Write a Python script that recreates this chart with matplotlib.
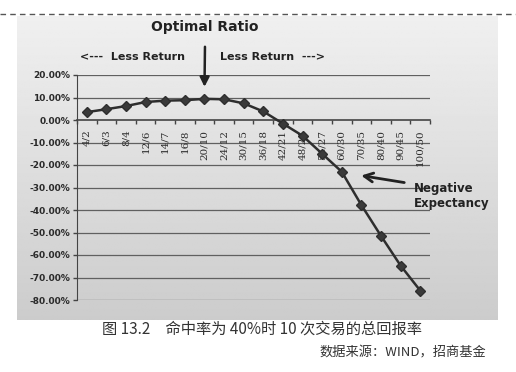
import matplotlib
matplotlib.use("Agg")
import matplotlib.pyplot as plt
import numpy as np

plt.rcParams['font.family'] = ['DejaVu Sans', 'Noto Sans CJK SC']

# ratio labels (bet size / risk) and total return after 10 trades, in %
ratios = ["4/2", "6/3", "8/4", "12/6", "14/7", "16/8", "20/10", "24/12", "30/15",
          "36/18", "42/21", "48/24", "54/27", "60/30", "70/35", "80/40", "90/45", "100/50"]
total_return = [3.5, 4.8, 6.2, 8.0, 8.6, 8.8, 9.4, 9.2, 7.4,
                3.8, -1.6, -7.0, -15.0, -23.0, -37.8, -51.5, -64.7, -75.8]
y_ticks = [20, 10, 0, -10, -20, -30, -40, -50, -60, -70, -80]

W, H = 516, 372
fig = plt.figure(figsize=(W / 100, H / 100), dpi=100)
fig.patch.set_facecolor("white")


def fx(px):
    return px / W


def fy(py):
    return 1 - py / H


# photographed page background
bg = fig.add_axes([fx(17), fy(320), fx(498 - 17), (320 - 16) / H])
grad = np.linspace(0.94, 0.80, 200)[:, None] * np.ones((1, 10))
bg.imshow(grad, cmap="gray", vmin=0, vmax=1, aspect="auto", extent=[0, 1, 0, 1])
bg.set_axis_off()
bg.set_zorder(0)

# dashed separator line at top
fig.add_artist(plt.Line2D([0, 1], [fy(14), fy(14)], transform=fig.transFigure,
                          color="#555555", lw=1, ls=(0, (4, 3))))

ax = fig.add_axes([fx(77), fy(300), fx(430 - 77), (300 - 75) / H])
ax.set_zorder(1)
ax.patch.set_alpha(0)

x = np.arange(len(ratios))
ax.plot(x, total_return, color="#2e2e2e", lw=1.8, marker="D", markersize=5,
        markerfacecolor="#3a3a3a", markeredgecolor="#2e2e2e", zorder=3)

ax.set_xlim(-0.5, len(ratios) - 0.5)
ax.set_ylim(-80, 20)
ax.set_yticks(y_ticks)
ax.set_yticklabels([f"{v:.2f}%" for v in y_ticks], fontsize=6.5, fontweight="bold",
                   color="#2a2a2a")
for v in y_ticks:
    if v != 0:
        ax.axhline(v, color="#606060", lw=0.9, zorder=1)
ax.tick_params(axis="y", length=3, width=1, color="#444444", pad=2)

for s in ["top", "right"]:
    ax.spines[s].set_visible(False)
ax.spines["left"].set_color("#444444")
ax.spines["bottom"].set_position(("data", 0))
ax.spines["bottom"].set_color("#444444")
ax.spines["bottom"].set_linewidth(1.2)

ax.set_xticks(x)
ax.set_xticks(np.arange(len(ratios) + 1) - 0.5, minor=True)
ax.tick_params(axis="x", which="major", length=0, pad=7)
ax.tick_params(axis="x", which="minor", length=3, width=1, color="#444444",
               direction="out")
ax.set_xticklabels(ratios, rotation=90, fontsize=7.5, family="DejaVu Serif",
                   color="#2a2a2a", va="top")

# annotations
fig.text(fx(205), fy(27), "Optimal Ratio", ha="center", va="center",
         fontsize=10, fontweight="bold", color="#222222")
fig.text(fx(132), fy(57), "<---  Less Return", ha="center", va="center",
         fontsize=8, fontweight="bold", color="#222222")
fig.text(fx(272), fy(57), "Less Return  --->", ha="center", va="center",
         fontsize=8, fontweight="bold", color="#222222")
ax.annotate("", xy=(6, 13.5), xycoords="data",
            xytext=(fx(205), fy(44)), textcoords="figure fraction",
            arrowprops=dict(arrowstyle="-|>", color="#222222", lw=1.8,
                            mutation_scale=14))
ax.annotate("", xy=(13.85, -24.5), xycoords="data",
            xytext=(fx(407), fy(183)), textcoords="figure fraction",
            arrowprops=dict(arrowstyle="->", color="#222222", lw=2,
                            mutation_scale=16))
fig.text(fx(414), fy(196), "Negative\nExpectancy", ha="left", va="center",
         fontsize=8.5, fontweight="bold", color="#222222", linespacing=1.2)

fig.text(fx(262), fy(329), "图 13.2　命中率为 40%时 10 次交易的总回报率",
         ha="center", va="center", fontsize=11, color="#333333",
         family=["Noto Sans CJK SC", "DejaVu Sans"])
fig.text(fx(486), fy(353), "数据来源：WIND，招商基金", ha="right", va="center",
         fontsize=9.5, color="#333333", family=["Noto Sans CJK SC", "DejaVu Sans"])

fig.savefig("out.png", dpi=100)
